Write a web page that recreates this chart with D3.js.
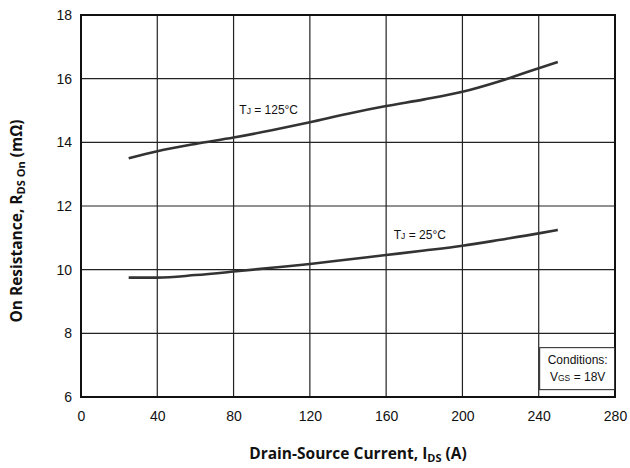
<!DOCTYPE html>
<html>
<head>
<meta charset="utf-8">
<script src="https://cdn.jsdelivr.net/npm/d3@7"></script>
<style>
  body { margin: 0; background: #fff; }
  .tick text { font-family: "Liberation Sans", Arial, sans-serif; font-size: 14px; fill: #111; }
  .axisTitle { font-family: "Open Sans", sans-serif; font-weight: bold; font-size: 15.5px; fill: #111; }
  .note { font-family: "Liberation Sans", Arial, sans-serif; font-size: 12px; fill: #111; }
</style>
</head>
<body>
<div class="chart"></div>
<script>
var svgWidth = 630;
var svgHeight = 468;

var margin = { top: 15, right: 15, bottom: 71, left: 81 };
var width = svgWidth - margin.left - margin.right;
var height = svgHeight - margin.top - margin.bottom;

// data
var xTicks = [0, 40, 80, 120, 160, 200, 240, 280];
var yTicks = [6, 8, 10, 12, 14, 16, 18];

var current = [25, 40, 60, 80, 100, 120, 140, 160, 180, 200, 220, 240, 250];
var r125 = [13.5, 13.72, 13.95, 14.15, 14.38, 14.63, 14.9, 15.14, 15.35, 15.59, 15.93, 16.33, 16.52];
var r25 = [9.75, 9.75, 9.83, 9.94, 10.06, 10.18, 10.32, 10.46, 10.6, 10.75, 10.94, 11.14, 11.25];

var svg = d3.select(".chart")
  .append("svg")
  .attr("width", svgWidth)
  .attr("height", svgHeight);

var chartGroup = svg.append("g")
  .attr("transform", `translate(${margin.left}, ${margin.top})`);

var xScale = d3.scaleLinear().domain([0, 280]).range([0, width]);
var yScale = d3.scaleLinear().domain([6, 18]).range([height, 0]);

// grid
chartGroup.append("g")
  .selectAll("line.vx")
  .data(xTicks)
  .enter()
  .append("line")
  .attr("x1", d => xScale(d)).attr("x2", d => xScale(d))
  .attr("y1", 0).attr("y2", height)
  .attr("stroke", "#222").attr("stroke-width", 1.2);

chartGroup.append("g")
  .selectAll("line.hy")
  .data(yTicks)
  .enter()
  .append("line")
  .attr("x1", 0).attr("x2", width)
  .attr("y1", d => yScale(d)).attr("y2", d => yScale(d))
  .attr("stroke", "#222").attr("stroke-width", 1.2);

// axes (labels only)
var bottomAxis = d3.axisBottom(xScale).tickValues(xTicks).tickSize(0).tickPadding(14);
var leftAxis = d3.axisLeft(yScale).tickValues(yTicks).tickSize(0).tickPadding(9);

var gx = chartGroup.append("g")
  .attr("transform", `translate(0, ${height})`)
  .call(bottomAxis);
gx.select(".domain").remove();

var gy = chartGroup.append("g").call(leftAxis);
gy.select(".domain").remove();

// frame
chartGroup.append("rect")
  .attr("x", 0).attr("y", 0)
  .attr("width", width).attr("height", height)
  .attr("fill", "none")
  .attr("stroke", "#111")
  .attr("stroke-width", 2);

// curves
var line = d3.line()
  .x((d, i) => xScale(current[i]))
  .y(d => yScale(d))
  .curve(d3.curveMonotoneX);

[r125, r25].forEach(function (s) {
  chartGroup.append("path")
    .datum(s)
    .attr("d", line)
    .attr("fill", "none")
    .attr("stroke", "#333")
    .attr("stroke-width", 2.6);
});

// curve labels
function tjLabel(x, y, t) {
  var txt = chartGroup.append("text")
    .attr("class", "note")
    .attr("x", xScale(x))
    .attr("y", yScale(y));
  txt.append("tspan").text("T");
  txt.append("tspan").attr("font-size", "8.5px").text("J");
  txt.append("tspan").text(" = " + t);
}
tjLabel(83, 14.9, "125°C");
tjLabel(164, 10.95, "25°C");

// conditions box
var box = chartGroup.append("g")
  .attr("transform", `translate(${xScale(240.5)}, ${yScale(7.55)})`);
box.append("rect")
  .attr("width", 75).attr("height", 42)
  .attr("fill", "#fff")
  .attr("stroke", "#222")
  .attr("stroke-width", 1);
box.append("text")
  .attr("class", "note")
  .attr("x", 38).attr("y", 16)
  .attr("text-anchor", "middle")
  .text("Conditions:");
var v = box.append("text")
  .attr("class", "note")
  .attr("x", 38).attr("y", 33)
  .attr("text-anchor", "middle");
v.append("tspan").text("V");
v.append("tspan").attr("font-size", "8.5px").text("GS");
v.append("tspan").text(" = 18V");

// axis titles
var xt = chartGroup.append("text")
  .attr("class", "axisTitle")
  .attr("text-anchor", "middle")
  .attr("transform", `translate(${width / 2 + 10}, ${height + 62})`);
xt.append("tspan").text("Drain-Source Current, I");
xt.append("tspan").attr("font-size", "11px").attr("dy", 3).text("DS");
xt.append("tspan").attr("dy", -3).text(" (A)");

var yt = chartGroup.append("text")
  .attr("class", "axisTitle")
  .attr("text-anchor", "middle")
  .attr("transform", `translate(${-margin.left + 22}, ${height / 2 + 15}) rotate(-90)`);
yt.append("tspan").text("On Resistance, R");
yt.append("tspan").attr("font-size", "11px").attr("dy", 3).text("DS On");
yt.append("tspan").attr("dy", -3).text(" (mΩ)");
</script>
</body>
</html>
